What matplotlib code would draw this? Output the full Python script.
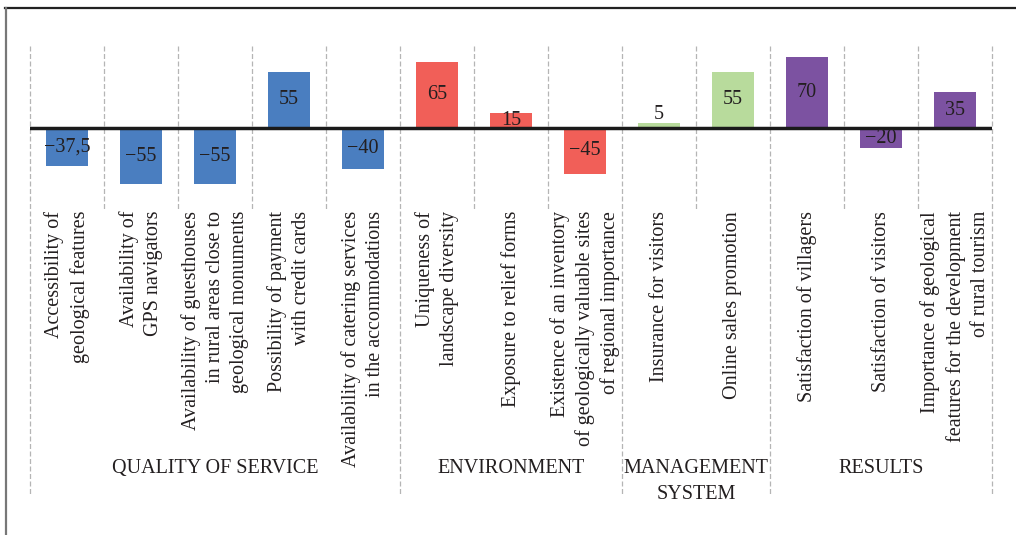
import matplotlib
matplotlib.use("Agg")
import matplotlib.pyplot as plt
from matplotlib.lines import Line2D
import matplotlib.transforms as mtransforms

# ---- data ----
categories = [
    "Accessibility of\ngeological features",
    "Availability of\nGPS navigators",
    "Availability of guesthouses\nin rural areas close to\ngeological monuments",
    "Possibility of payment\nwith credit cards",
    "Availability of catering services\nin the accommodations",
    "Uniqueness of\nlandscape diversity",
    "Exposure to relief forms",
    "Existence of an inventory\nof geologically valuable sites\nof regional importance",
    "Insurance for visitors",
    "Online sales promotion",
    "Satisfaction of villagers",
    "Satisfaction of visitors",
    "Importance of geological\nfeatures for the development\nof rural tourism",
]
values = [-37.5, -55, -55, 55, -40, 65, 15, -45, 5, 55, 70, -20, 35]
value_labels = ["\u221237,5", "\u221255", "\u221255", "55", "\u221240", "65", "15",
                "\u221245", "5", "55", "70", "\u221220", "35"]
groups = ["QUALITY OF SERVICE", "ENVIRONMENT", "MANAGEMENT\nSYSTEM", "RESULTS"]
group_sizes = [5, 3, 2, 3]
group_colors = ["#4A7EC0", "#F15F58", "#B8DB9C", "#7C52A1"]

# ---- figure ----
W, H = 1016, 535
fig = plt.figure(figsize=(W / 100, H / 100), dpi=100)
plt.rcParams['font.family'] = ['Liberation Serif', 'DejaVu Serif']

left_px, right_px = 30, 992
top_px, bot_px = 46, 205
ax = fig.add_axes([left_px / W, 1 - bot_px / H, (right_px - left_px) / W, (bot_px - top_px) / H])

zero_px = 128
scale = 1.02  # px per unit
ax.set_ylim(-(bot_px - zero_px) / scale, (zero_px - top_px) / scale)
n = len(values)
ax.set_xlim(-0.5, n - 0.5)
ax.axis('off')

colors = []
for c, s in zip(group_colors, group_sizes):
    colors += [c] * s

x = list(range(n))
ax.bar(x, values, width=0.57, color=colors, zorder=2)
ax.axhline(0, color="#1a1a1a", lw=2.5, zorder=3)

txtc = "#231f20"
for xi, v, lab in zip(x, values, value_labels):
    if abs(v) < 10:
        ax.text(xi, v + 8, lab, ha='center', va='center', fontsize=14.5, color=txtc, zorder=4)
    else:
        ax.text(xi, v / 2, lab, ha='center', va='center', fontsize=14.5, color=txtc, zorder=4)

# vertical separators
trans = mtransforms.blended_transform_factory(ax.transData, ax.transAxes)
boundaries_group = [-0.5]
acc = -0.5
for s in group_sizes:
    acc += s
    boundaries_group.append(acc)
tick_bottom = 1 - (210 - top_px) / (bot_px - top_px)
group_bottom = 1 - (494 - top_px) / (bot_px - top_px)
for b in range(n + 1):
    bx = b - 0.5
    yb = group_bottom if bx in boundaries_group else tick_bottom
    ax.add_line(Line2D([bx, bx], [1, yb], transform=trans, color="#b5b5b5", lw=0.9,
                       linestyle=(0, (4, 2)), clip_on=False, zorder=1))

# category labels
label_top = 1 - (211 - top_px) / (bot_px - top_px)
for xi, cat in zip(x, categories):
    ax.text(xi, label_top, cat, transform=trans, rotation=90, ha='center', va='top',
            multialignment='right', fontsize=14.5, color=txtc, linespacing=1.37)

# group labels
glabel_y = 1 - (459 - top_px) / (bot_px - top_px)
start = -0.5
for g, s in zip(groups, group_sizes):
    cx = start + s / 2
    ax.text(cx, glabel_y, g, transform=trans, ha='center', va='top', fontsize=14.5,
            color=txtc, linespacing=1.5)
    start += s

# frame lines
fig.add_artist(Line2D([5 / W, 1], [1 - 8 / H, 1 - 8 / H], color="#222222", lw=1.6))
fig.add_artist(Line2D([6 / W, 6 / W], [0, 1 - 8 / H], color="#777777", lw=1.6))

fig.savefig("out.png", dpi=100)
